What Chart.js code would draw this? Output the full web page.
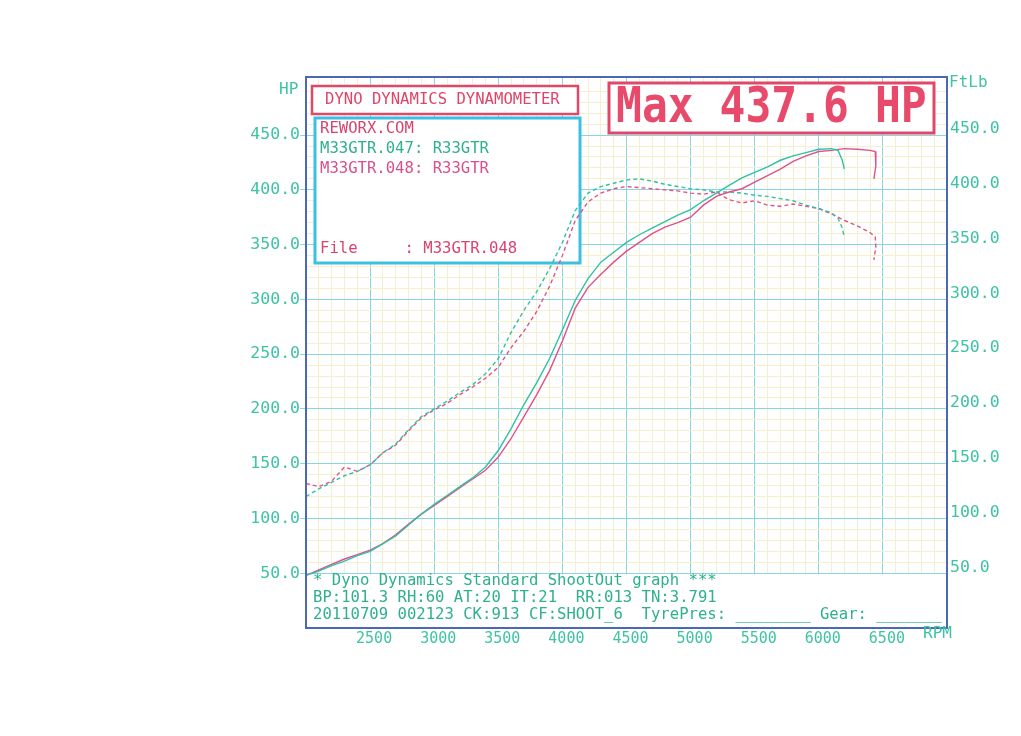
<!DOCTYPE html>
<html>
<head>
<meta charset="utf-8">
<script src="https://cdn.jsdelivr.net/npm/chart.js@4"></script>
<style>
  html, body { margin: 0; padding: 0; background: #fff; }
  canvas { display: block; }
</style>
</head>
<body>
<canvas id="dyno" width="1021" height="736"></canvas>
<script>
// run M33GTR.047 (teal)
const rpm047 = [2000, 2100, 2200, 2300, 2400, 2500, 2600, 2700, 2800, 2900,
  3000, 3100, 3200, 3300, 3400, 3500, 3600, 3700, 3800, 3900,
  4000, 4100, 4200, 4300, 4400, 4500, 4600, 4700, 4800, 4900,
  5000, 5100, 5200, 5300, 5400, 5500, 5600, 5700, 5800, 5900,
  6000, 6100, 6150, 6180, 6200];
const hp047 = [48, 52, 57, 61, 66, 70, 77, 84, 94, 104,
  113, 121, 129, 137, 147, 162, 182, 204, 224, 246,
  272, 299, 319, 334, 343, 352, 359, 365, 371, 377,
  382, 390, 397, 404, 411, 416, 421, 427, 431, 434,
  437, 437.6, 436, 428, 419];
const tq047 = [120, 127, 133, 139, 143, 149, 160, 168, 181, 193,
  200, 207, 215, 222, 232, 246, 270, 290, 307, 328,
  352, 381, 397, 403, 406, 409, 410, 408, 405, 403,
  401, 400, 398, 398, 397, 395, 394, 392, 390, 386,
  383, 379, 374, 366, 357];

// run M33GTR.048 (pink)
const rpm048 = [2000, 2100, 2200, 2300, 2400, 2500, 2600, 2700, 2800, 2900,
  3000, 3100, 3200, 3300, 3400, 3500, 3600, 3700, 3800, 3900,
  4000, 4100, 4200, 4300, 4400, 4500, 4600, 4700, 4800, 4900,
  5000, 5100, 5200, 5300, 5400, 5500, 5600, 5700, 5800, 5900,
  6000, 6100, 6200, 6300, 6400, 6440, 6445, 6430];
const hp048 = [48, 53, 58, 63, 67, 71, 77, 85, 95, 104,
  112, 120, 128, 136, 144, 156, 173, 193, 213, 235,
  262, 292, 311, 323, 334, 344, 352, 360, 366, 370,
  375, 386, 394, 398, 401, 407, 413, 419, 426, 431,
  435, 436, 437.6, 437, 436, 435, 422, 410];
const tq048 = [132, 129, 134, 147, 143, 149, 160, 167, 180, 192,
  199, 205, 213, 220, 228, 238, 256, 271, 289, 312,
  340, 372, 389, 397, 401, 403, 402, 401, 400, 399,
  397, 396, 398, 391, 388, 390, 386, 385, 387, 385,
  383, 378, 372, 367, 361, 357, 348, 336];

const xTicks = [2500, 3000, 3500, 4000, 4500, 5000, 5500, 6000, 6500];
const yTicks = [50, 100, 150, 200, 250, 300, 350, 400, 450];

const TEAL = '#2fc0aa';
const PINK = '#e0508e';
const LABEL = '#3ec3a4';
const MONO = '"DejaVu Sans Mono", monospace';

function pts(xs, ys) {
  return xs.map((x, i) => ({ x: x, y: ys[i] }));
}

const overlay = {
  id: 'overlay',
  beforeDatasetsDraw(chart) {
    const c = chart.ctx, a = chart.chartArea, y = chart.scales.y;
    c.save();
    // white strip under the 50 line for the test notes
    c.fillStyle = '#fff';
    c.fillRect(a.left, y.getPixelForValue(50) + 1, a.right - a.left, a.bottom - y.getPixelForValue(50));

    // title box
    c.fillRect(312, 86, 266, 28);
    c.strokeStyle = '#e04868'; c.lineWidth = 2.5;
    c.strokeRect(312, 86, 266, 28);
    c.fillStyle = '#e04468';
    c.font = '15.6px ' + MONO;
    c.textBaseline = 'middle';
    c.fillText('DYNO DYNAMICS DYNAMOMETER', 325, 100);

    // info box
    c.fillStyle = '#fff';
    c.fillRect(315, 118, 265, 145);
    c.strokeStyle = '#3cc0e2'; c.lineWidth = 3;
    c.strokeRect(315, 118, 265, 145);
    c.font = '15.6px ' + MONO;
    c.fillStyle = '#d84470'; c.fillText('REWORX.COM', 320, 129);
    c.fillStyle = '#2fb08e'; c.fillText('M33GTR.047: R33GTR', 320, 149);
    c.fillStyle = '#d8508e'; c.fillText('M33GTR.048: R33GTR', 320, 169);
    c.fillStyle = '#d84470'; c.fillText('File     : M33GTR.048', 320, 249);

    // max box
    c.fillStyle = '#fff';
    c.fillRect(609, 83, 325, 50);
    c.strokeStyle = '#e04868'; c.lineWidth = 3;
    c.strokeRect(609, 83, 325, 50);
    c.fillStyle = '#e84a6c';
    c.font = 'bold 43px ' + MONO;
    c.translate(616, 109);
    c.scale(1, 1.15);
    c.fillText('Max 437.6 HP', 0, 0);
    c.restore();
  },
  afterDraw(chart) {
    const c = chart.ctx, a = chart.chartArea;
    c.save();
    c.strokeStyle = '#4a68b6'; c.lineWidth = 2;
    c.strokeRect(a.left, a.top, a.right - a.left, a.bottom - a.top);

    c.font = '15.6px ' + MONO;
    c.textBaseline = 'middle';
    c.fillStyle = '#2fb08e';
    c.fillText('* Dyno Dynamics Standard ShootOut graph ***', 313, 581);
    c.fillText('BP:101.3 RH:60 AT:20 IT:21  RR:013 TN:3.791', 313, 598);
    c.fillText('20110709 002123 CK:913 CF:SHOOT_6  TyrePres: ________ Gear: _______', 313, 615);

    c.fillStyle = LABEL;
    c.font = '16px ' + MONO;
    c.fillText('HP', 279, 90);
    c.fillText('FtLb', 949, 83);
    c.fillText('RPM', 923, 634);
    c.restore();
  }
};

new Chart(document.getElementById('dyno'), {
  type: 'line',
  data: {
    datasets: [
      { label: '047 HP', data: pts(rpm047, hp047), borderColor: TEAL, yAxisID: 'y' },
      { label: '048 HP', data: pts(rpm048, hp048), borderColor: PINK, yAxisID: 'y' },
      { label: '047 FtLb', data: pts(rpm047, tq047), borderColor: TEAL, borderDash: [4, 3], yAxisID: 'y2' },
      { label: '048 FtLb', data: pts(rpm048, tq048), borderColor: PINK, borderDash: [4, 3], yAxisID: 'y2' }
    ]
  },
  options: {
    responsive: false,
    animation: false,
    layout: { padding: { top: 77, left: 0, right: 0, bottom: 0 } },
    elements: {
      point: { radius: 0 },
      line: { borderWidth: 1.4, tension: 0 }
    },
    plugins: {
      legend: { display: false },
      tooltip: { enabled: false }
    },
    scales: {
      x: {
        type: 'linear',
        min: 2000,
        max: 7000,
        afterFit: s => { s.height = 108; },
        border: { display: false },
        grid: {
          drawTicks: false,
          lineWidth: 1,
          color: ctx => ctx.tick.value % 500 === 0 ? '#8ad6e2' : '#f4efcf'
        },
        ticks: {
          stepSize: 100,
          autoSkip: false,
          maxRotation: 0,
          padding: 2,
          labelOffset: 4,
          color: LABEL,
          font: { family: MONO, size: 15 },
          callback: v => xTicks.includes(v) ? String(v) : ''
        }
      },
      y: {
        min: 0,
        max: 503,
        afterFit: s => { s.width = 306; },
        border: { display: false },
        grid: {
          drawTicks: true,
          tickLength: 6,
          lineWidth: 1,
          color: ctx => ctx.tick.value % 50 === 0 ? '#8ad6e2' : '#f4efcf',
          tickColor: ctx => yTicks.includes(ctx.tick.value) ? '#8ad6e2' : 'rgba(0,0,0,0)'
        },
        ticks: {
          stepSize: 10,
          autoSkip: false,
          padding: 0,
          color: LABEL,
          font: { family: MONO, size: 16.5 },
          callback: v => yTicks.includes(v) ? v.toFixed(1) : ''
        }
      },
      y2: {
        position: 'right',
        min: 0,
        max: 503,
        afterFit: s => { s.width = 74; },
        border: { display: false },
        grid: { drawOnChartArea: false, drawTicks: false },
        ticks: {
          stepSize: 10,
          autoSkip: false,
          padding: 3,
          labelOffset: -6,
          color: LABEL,
          font: { family: MONO, size: 16.5 },
          callback: v => yTicks.includes(v) ? v.toFixed(1) : ''
        }
      }
    }
  },
  plugins: [overlay]
});
</script>
</body>
</html>
